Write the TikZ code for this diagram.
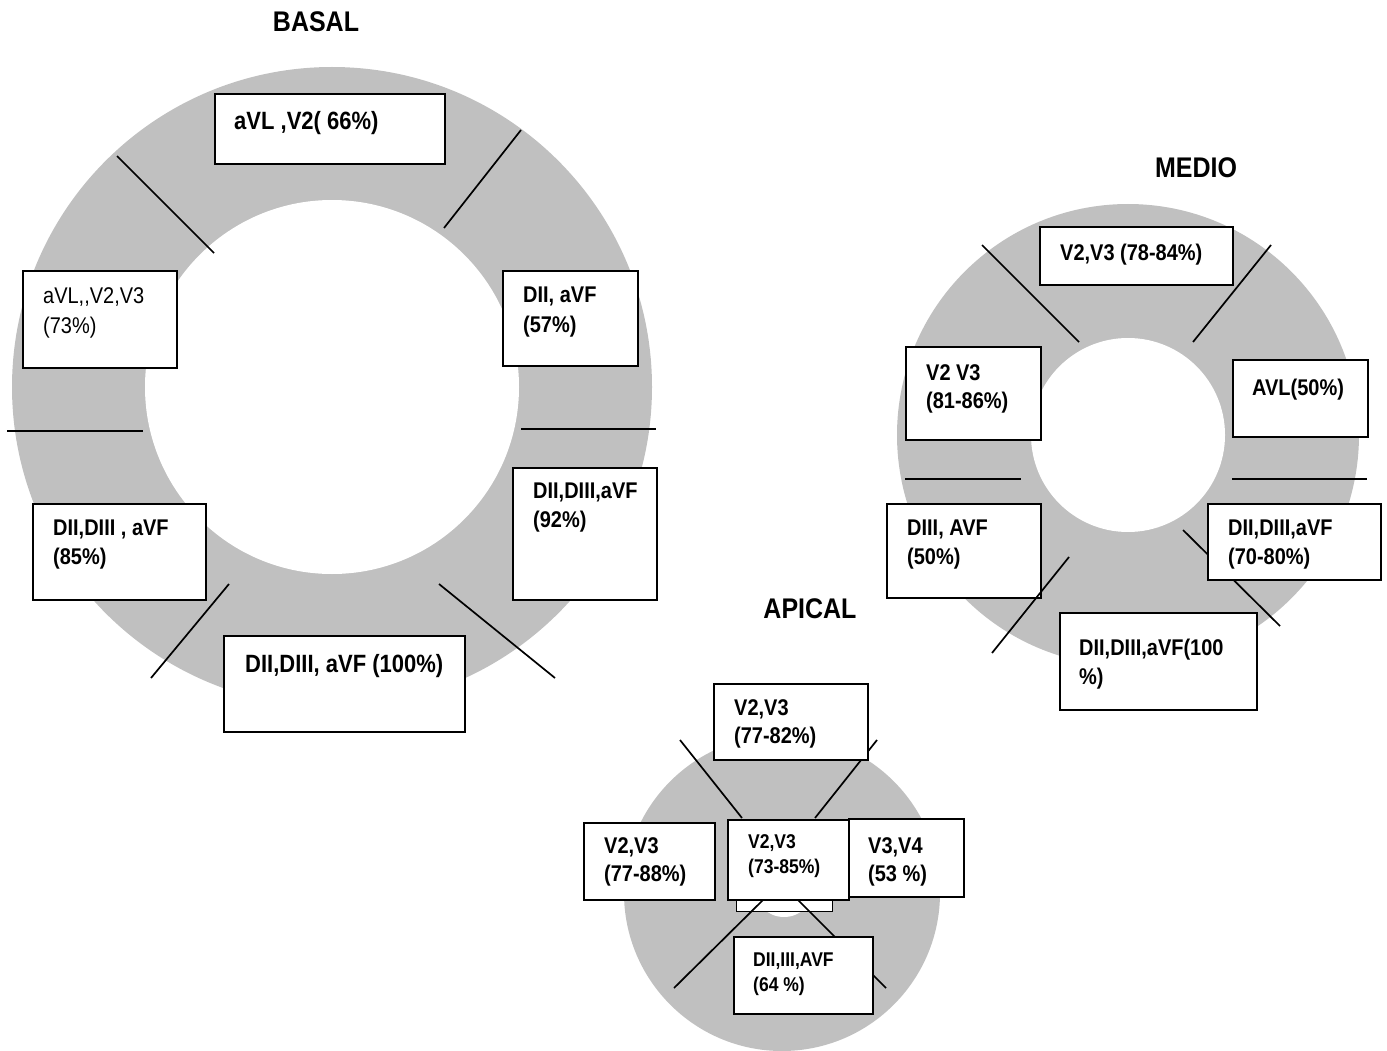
\documentclass[tikz,border=0pt]{standalone}
\usepackage{fontspec}
\setmainfont{Liberation Sans}[FakeStretch=0.88]
\usetikzlibrary{positioning}
\definecolor{ringgray}{RGB}{192,192,192}

\begin{document}
\begin{tikzpicture}[x=1pt, y=-1pt,
  box/.style={draw, fill=white, line width=1.6pt, inner sep=0pt, anchor=north west},
  txt/.style={anchor=north west, align=left, inner sep=0pt, font=\bfseries\fontsize{22.7}{28.5}\selectfont},
  bigtxt/.style={txt, font=\bfseries\fontsize{25}{28}\selectfont},
  smalltxt/.style={txt, font=\bfseries\fontsize{19.9}{25}\selectfont},
  ringname/.style={inner sep=0pt, font=\bfseries\fontsize{28.4}{32}\selectfont},
  divline/.style={line width=1.7pt}
]
\useasboundingbox (0,0) rectangle (1387,1051);

% rings
\fill[ringgray] (332,387) circle[radius=320pt];
\fill[white] (332,387) circle[radius=187pt];
\fill[ringgray] (1128,435) circle[radius=231pt];
\fill[white] (1128,435) circle[radius=97pt];
\fill[ringgray] (782,893) circle[radius=158pt];
\fill[white] (784,887) circle[radius=30pt];

% titles
\node[ringname] (basal) at (316,22) {BASAL};
\node[ringname] (medio) at (1196,168) {MEDIO};
\node[ringname] (apical) at (810,609) {APICAL};

% lines
\draw[divline] (117,156) -- (214,253);
\draw[divline] (521,130) -- (444,228);
\draw[divline] (7,431) -- (143,431);
\draw[divline] (521,429) -- (656,429);
\draw[divline] (229,584) -- (151,678);
\draw[divline] (439,584) -- (555,678);

\draw[divline] (982,245) -- (1079,342);
\draw[divline] (1271,245) -- (1193,342);
\draw[divline] (905,479) -- (1021,479);
\draw[divline] (1232,479) -- (1367,479);
\draw[divline] (1183,530) -- (1280,626);

\node[box, minimum width=96, minimum height=21, line width=1pt] (apRest) at (736,890) {};
\draw[divline] (680,740) -- (742,818);
\draw[divline] (877,740) -- (815,818);
\draw[divline] (763,900) -- (674,988);
\draw[divline] (798,900) -- (886,988);

% basal boxes
\node[box, minimum width=230, minimum height=70] (basA) at (214,93) {};
\node[bigtxt] (basAt) at (234,111) {aVL ,V2( 66\%)};
\node[box, minimum width=154, minimum height=97] (basB) at (22,270) {};
\node[txt, font=\fontsize{22.7}{30}\selectfont] (basBt) at (43,287) {aVL,\kern0pt,V2,V3\\(73\%)};
\node[box, minimum width=135, minimum height=95] (basC) at (502,270) {};
\node[txt, font=\bfseries\fontsize{22.7}{30}\selectfont] (basCt) at (523,287) {DII, aVF\\(57\%)};
\node[box, minimum width=144, minimum height=132] (basD) at (512,467) {};
\node[txt] (basDt) at (533,483) {DII,DIII,aVF\\(92\%)};
\node[box, minimum width=173, minimum height=96] (basE) at (32,503) {};
\node[txt] (basEt) at (53,520) {DII,DIII , aVF\\(85\%)};
\node[box, minimum width=241, minimum height=96] (basF) at (223,635) {};
\node[bigtxt] (basFt) at (245,654) {DII,DIII, aVF (100\%)};

% medio boxes
\node[box, minimum width=193, minimum height=58] (medA) at (1039,226) {};
\node[txt] (medAt) at (1060,244) {V2,V3 (78-84\%)};
\node[box, minimum width=135, minimum height=93] (medB) at (905,346) {};
\node[txt] (medBt) at (926,364) {V2 V3\\(81-86\%)};
\node[box, minimum width=135, minimum height=77] (medC) at (1232,359) {};
\node[txt] (medCt) at (1252,379) {AVL(50\%)};
\node[box, minimum width=154, minimum height=94] (medD) at (886,503) {};
\node[txt] (medDt) at (907,520) {DIII, AVF\\(50\%)};
\node[box, minimum width=173, minimum height=76] (medE) at (1207,503) {};
\node[txt] (medEt) at (1228,520) {DII,DIII,aVF\\(70-80\%)};
\node[box, minimum width=197, minimum height=97] (medF) at (1059,612) {};
\node[txt] (medFt) at (1079,639) {DII,DIII,aVF(100\\\%)};
\draw[divline] (1069,557) -- (992,653);

% apical boxes
\node[box, minimum width=154, minimum height=76] (apA) at (713,683) {};
\node[txt] (apAt) at (734,699) {V2,V3\\(77-82\%)};
\node[box, minimum width=131, minimum height=77] (apB) at (583,822) {};
\node[txt] (apBt) at (604,837) {V2,V3\\(77-88\%)};
\node[box, minimum width=115, minimum height=78] (apD) at (848,818) {};
\node[txt] (apDt) at (868,837) {V3,V4\\(53 \%)};
\node[box, minimum width=121, minimum height=80] (apC) at (727,819) {};
\node[smalltxt] (apCt) at (748,834) {V2,V3\\(73-85\%)};
\node[box, minimum width=139, minimum height=77] (apE) at (733,936) {};
\node[smalltxt] (apEt) at (753,953) {DII,III,AVF\\(64 \%)};

\end{tikzpicture}
\end{document}
